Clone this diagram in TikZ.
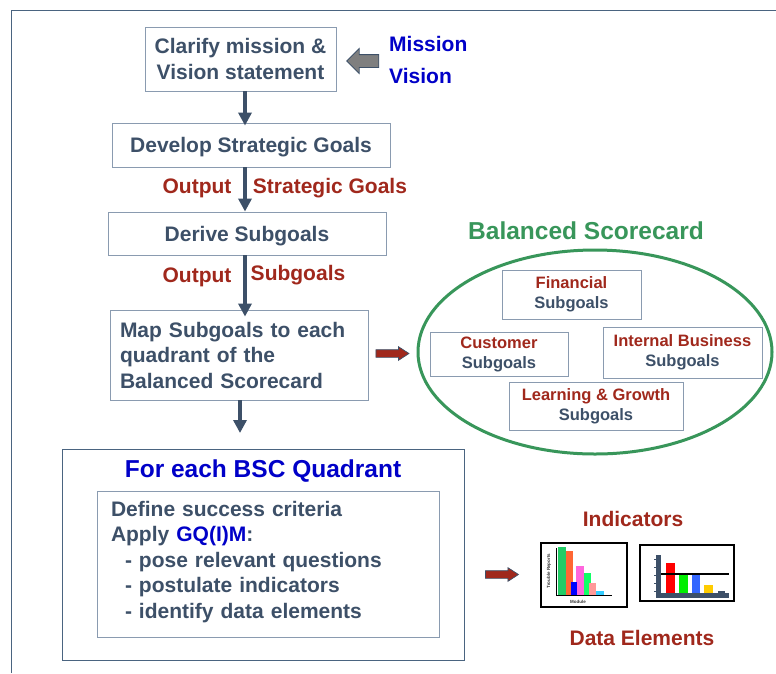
\documentclass[tikz,border=0pt]{standalone}
\usepackage{fontspec}
\setmainfont{Liberation Sans}
\usetikzlibrary{shapes.geometric,shapes.arrows,arrows.meta}
\definecolor{slate}{HTML}{3D5068}
\definecolor{boxc}{HTML}{8A9BB0}
\definecolor{framec}{HTML}{4A6480}
\definecolor{dred}{HTML}{A0281C}
\definecolor{dblue}{HTML}{0000C8}
\definecolor{bscgreen}{HTML}{38965A}
\definecolor{arrgray}{HTML}{7F7F7F}
\definecolor{cgreen}{HTML}{22CC66}
\definecolor{corange}{HTML}{FF6633}
\definecolor{cblue}{HTML}{0000FF}
\definecolor{cpink}{HTML}{FF66DD}
\definecolor{clgreen}{HTML}{11FF66}
\definecolor{clpink}{HTML}{FF9999}
\definecolor{ccyan}{HTML}{33CCFF}
\definecolor{cred}{HTML}{FF0000}
\definecolor{cgreen2}{HTML}{00EE00}
\definecolor{cblue2}{HTML}{3366FF}
\definecolor{cyellow}{HTML}{FFCC00}
\begin{document}
\begin{tikzpicture}[x=1pt,y=-1pt,
  box/.style={draw=boxc, line width=0.9pt, text=slate, font=\bfseries\fontsize{21}{25.5}\selectfont, align=center, inner sep=0pt},
  sub/.style={draw=boxc, line width=0.9pt, text=slate, font=\bfseries\fontsize{16.5}{20}\selectfont, align=center, inner sep=0pt},
  downarr/.style={draw=slate, line width=4.5pt, -{Triangle[width=13pt,length=13pt]}},
  lbl/.style={font=\bfseries\fontsize{21}{25}\selectfont, inner sep=0pt},
  bigtitle/.style={font=\bfseries\fontsize{24.5}{28}\selectfont, inner sep=0pt},
  grayarrow/.style={single arrow, draw=slate, line width=0.8pt, fill=arrgray, inner xsep=0pt, inner ysep=6pt, single arrow head extend=6pt, minimum height=32pt},
  redarrow/.style={single arrow, draw=slate, line width=0.7pt, fill=dred, inner xsep=0pt, inner ysep=3.5pt, single arrow head extend=3pt, single arrow tip angle=66, minimum height=33pt},
  chartbox/.style={draw=black, line width=1.6pt, inner sep=0pt},
  tinytxt/.style={font=\bfseries\fontsize{4.5}{5}\selectfont, text=black!80, inner sep=0pt}
]
\useasboundingbox (0,0) rectangle (776,673);
\fill[white] (0,0) rectangle (776,673);
% outer frame
\draw[framec, line width=1pt] (11,673) -- (11,10) -- (776,10);

% main flow
\node[box, minimum width=191pt, minimum height=64pt] (b1) at (240.5,59) {Clarify mission \&\\Vision statement};
\node[box, minimum width=278pt, minimum height=44pt, text depth=0pt] (b2) at (251,145) {Develop Strategic Goals};
\node[box, minimum width=278pt, minimum height=43pt, text depth=0pt] (b3) at (247,233.5) {Derive Subgoals};
\node[box, minimum width=258pt, minimum height=90pt, text width=238pt, align=left, inner xsep=10pt] (b4) at (239,355) {Map Subgoals to each\\quadrant of the\\Balanced Scorecard};

\coordinate (ax) at (245,0);
\coordinate (ax2) at (240,0);
\draw[downarr] (b1.south -| ax) -- ([yshift=-3pt]b2.north -| ax);
\draw[downarr] (b2.south -| ax) -- (b3.north -| ax);
\draw[downarr] (b3.south -| ax) -- ([yshift=-7pt]b4.north -| ax);
\coordinate (b5top) at (240,433);

% mission / vision
\node[grayarrow, shape border rotate=180] (ga) at (366,61) {};
\node[lbl, text=dblue, anchor=west] (mis) at (389,44) {Mission};
\node[lbl, text=dblue, anchor=west] (vis) at (389,76) {Vision};

% outputs
\node[lbl, text=dred] (o1) at (197,188) {Output};
\node[lbl, text=dred] (sg) at (330,188) {Strategic Goals};
\node[lbl, text=dred] (o2) at (197,277) {Output};
\node[lbl, text=dred] (sb) at (298,275) {Subgoals};

% BSC quadrant box
\node[draw=framec, line width=0.9pt, minimum width=402pt, minimum height=211pt, inner sep=0pt] (b5) at (263,554.5) {};
\draw[downarr] (b4.south -| ax2) -- (b5top);
\node[bigtitle, text=dblue] (b5t) at (263,471) {For each BSC Quadrant};
\node[box, minimum width=342pt, minimum height=146pt, text width=314pt, align=left, inner xsep=14pt, text depth=111pt] (b6) at (268,564) {Define success criteria\\Apply \textcolor{dblue}{GQ(I)M}:\\\hspace*{14pt}- pose relevant questions\\\hspace*{14pt}- postulate indicators\\\hspace*{14pt}- identify data elements};

% balanced scorecard
\node[bigtitle, text=bscgreen] (bsct) at (586,231) {Balanced Scorecard};
\node[ellipse, draw=bscgreen, line width=3pt, minimum width=354pt, minimum height=204pt, inner sep=0pt] (ell) at (595,352) {};
\node[sub, minimum width=139pt, minimum height=49pt] (fin) at (571.5,294.5) {\textcolor{dred}{Financial}\\Subgoals};
\node[sub, minimum width=138pt, minimum height=44pt] (cus) at (499,354) {\textcolor{dred}{Customer}\\Subgoals};
\node[sub, minimum width=159pt, minimum height=51pt] (ib) at (682.5,352.5) {\textcolor{dred}{Internal Business}\\Subgoals};
\node[sub, minimum width=174pt, minimum height=48pt] (lg) at (596,406) {\textcolor{dred}{Learning \& Growth}\\Subgoals};

\node[redarrow] (ra1) at (389.5,353.5) {};

% indicators
\node[redarrow] (ra2) at (499,574.5) {};
\node[lbl, text=dred] (ind) at (633,519) {Indicators};
\node[lbl, text=dred] (de) at (642,638) {Data Elements};

% chart 1
\node[chartbox, minimum width=86pt, minimum height=64pt] (c1) at (584,575) {};
\fill[cgreen]  (558,547) rectangle (566,595);
\fill[corange] (566,551) rectangle (573,595);
\fill[cpink]   (576,566) rectangle (584,595);
\fill[cblue]   (571,582) rectangle (577,595);
\fill[clgreen] (584,573) rectangle (591,595);
\fill[clpink]  (589,583) rectangle (596,595);
\fill[ccyan]   (596,591) rectangle (604,595);
\draw[black, line width=0.8pt] (556,548) -- (556,595) -- (612,595);
\node[tinytxt, rotate=90] (c1y) at (549,571) {Trouble Reports};
\node[tinytxt] (c1x) at (578,601.5) {Module};

% chart 2
\node[chartbox, minimum width=94pt, minimum height=56pt] (c2) at (687,573) {};
\fill[cred]    (666,563) rectangle (675,593);
\fill[cgreen2] (679,574) rectangle (688,593);
\fill[cblue2]  (692,574) rectangle (700,593);
\fill[cyellow] (704,585) rectangle (713,593);
\fill[slate]   (718,591) rectangle (725,593);
\fill[slate] (656,555) rectangle (661,598);
\fill[slate] (656,593) rectangle (729,598);
\foreach \ty in {559,567,575,583,591} \draw[slate, line width=1pt] (654,\ty) -- (656,\ty);
\draw[black, line width=1.3pt] (661,574) -- (729,574);
\end{tikzpicture}
\end{document}
